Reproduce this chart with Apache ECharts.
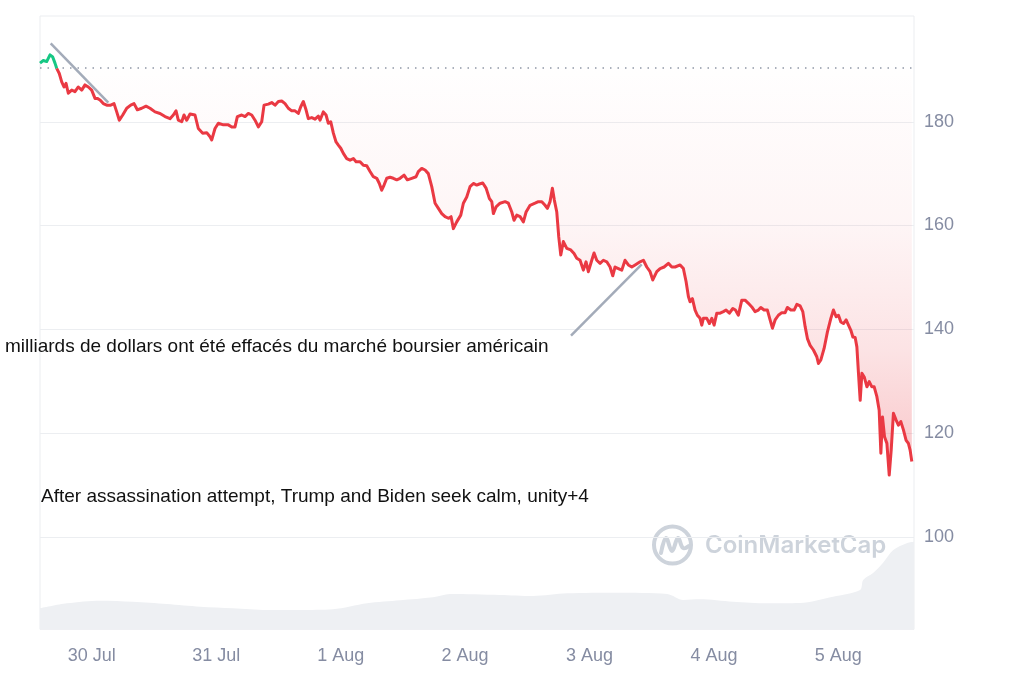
<!DOCTYPE html>
<html><head><meta charset="utf-8">
<script src="https://cdn.jsdelivr.net/npm/echarts@6/dist/echarts.min.js"></script>
<style>html,body{margin:0;padding:0;background:#fff}#c{width:1024px;height:683px}</style>
</head><body><div id="c"></div>
<script>
// ---- data ----
const startTime = new Date(2024, 6, 29, 14, 0).getTime(); // hour 0 = 29 Jul 14:00
const endHour = 168.6;
const baselinePrice = 190.4;
const dayLabels = ['30 Jul', '31 Jul', '1 Aug', '2 Aug', '3 Aug', '4 Aug', '5 Aug'];
const firstDay = new Date(2024, 6, 30, 0, 0).getTime();
const yTickStep = 20;

const priceHours = [
  0,0.64,1.29,1.93,2.45,2.89,3.22,3.72,4.19,4.63,5.02,5.46,6.12,6.75,7.39,8.05,8.68,9.32,9.97,10.61,11.05,11.58,12.21,12.87,13.64,14.28,14.80,15.30,15.96,16.73,17.50,18.14,18.77,19.62,20.45,21.22,22.19,23.15,24.12,25.08,25.72,26.24,26.68,27.34,27.78,28.30,28.94,29.90,30.54,31.39,32.16,32.80,33.13,33.76,34.40,35.37,36.33,36.99,37.62,38.07,38.91,39.55,40.19,40.84,41.48,42.12,
  42.77,43.22,44.05,44.70,45.34,45.98,46.63,47.27,47.90,48.56,49.20,49.83,50.30,50.80,51.32,51.76,52.42,53.06,53.69,54.02,54.66,55.18,55.62,56.09,56.59,57.11,57.55,58.02,58.52,59.17,59.81,60.45,60.97,61.74,62.38,63.03,63.67,64.30,64.96,65.46,65.92,66.37,66.89,67.53,68.16,68.82,69.46,70.23,70.86,71.71,72.54,72.98,73.64,74.28,74.91,75.57,76.21,76.85,77.50,78.14,78.78,79.30,79.74,80.39,81.17,
  81.67,82.32,82.96,83.60,84.25,84.76,85.41,86.05,86.69,87.15,87.46,87.98,88.75,89.72,90.35,91.01,91.45,91.97,92.61,93.25,93.77,94.54,95.50,96.14,96.80,97.43,97.88,98.39,98.84,99.22,99.69,100.07,100.46,100.96,101.62,102.39,103.02,103.54,104.18,104.82,105.34,105.78,106.44,106.88,107.40,108.04,108.68,109.33,109.97,110.49,110.93,111.57,112.23,112.86,113.50,114.16,114.80,115.76,116.40,117.05,117.69,118.21,118.98,119.62,120.39,121.22,121.88,122.51,123.48,
  124.11,124.63,125.08,125.40,125.85,126.37,126.81,127.33,127.66,127.97,128.63,129.13,129.59,130.04,130.56,131.20,131.83,132.35,132.99,133.65,134.15,134.72,135.38,136.01,136.65,137.31,137.94,138.58,139.04,139.68,140.32,140.84,141.29,141.81,142.44,143.10,143.74,144.18,144.84,145.48,146.00,146.63,147.15,147.60,148.04,148.56,149.20,149.85,150.16,150.63,151.26,151.90,152.56,153.06,153.58,154.03,154.49,154.99,155.51,155.96,156.42,156.81,157.25,157.58,157.89,158.22,158.55,159.00,159.52,159.96,160.47,160.92,161.44,161.88,162.21,162.52,162.91,163.37,163.82,164.20,164.63,165.15,165.59,166.06,166.56,167.08,167.52,167.85,168.18
];
const prices = [
  191.3,191.8,191.6,192.9,192.5,191.3,190.3,189.3,187.7,186.7,187.4,185.5,186.1,185.8,186.7,186.1,187.1,186.7,186.1,184.5,184.5,184.2,183.5,183.2,183.2,183.5,181.9,180.3,181.3,182.6,183.2,183.5,182.3,182.6,183.0,182.6,181.9,181.6,181.0,180.6,181.3,182.1,180.3,180.0,181.3,180.3,181.5,181.3,178.7,177.8,177.9,177.1,176.5,178.7,179.7,179.4,179.4,179.0,179.0,181.0,181.3,181.0,181.6,181.3,180.3,179.0,
  180.0,183.2,183.4,183.7,183.2,183.9,184.0,183.5,182.6,182.1,182.1,181.6,182.9,183.9,182.3,180.6,180.8,180.5,181.1,180.3,181.9,181.3,179.7,180.0,177.8,176.1,175.5,174.9,173.9,172.9,172.6,172.9,172.3,172.3,171.6,171.5,170.4,169.4,169.1,168.1,166.8,167.8,169.1,169.3,169.1,168.8,169.1,169.7,168.8,169.1,169.4,170.4,171.0,170.7,170.0,167.5,164.3,163.3,162.3,161.7,161.4,161.7,159.4,160.7,162.0,
  164.3,165.5,167.5,168.1,167.8,168.0,168.2,167.2,165.2,164.6,162.3,163.6,164.3,164.6,164.3,162.6,161.0,162.0,161.7,160.7,162.6,163.9,164.3,164.6,164.6,163.9,163.3,164.6,167.2,164.9,162.6,157.8,154.3,156.9,155.6,155.3,154.6,153.7,153.3,151.4,153.0,151.1,153.3,154.7,153.3,152.7,153.3,153.0,152.0,150.3,152.0,151.7,151.4,153.3,152.4,152.0,152.4,153.0,153.3,152.0,151.1,149.5,151.1,151.7,152.0,152.7,152.0,152.0,152.4,
  151.7,149.2,146.3,145.3,145.9,143.7,142.7,142.1,140.8,142.1,142.1,141.1,142.1,140.8,143.1,143.1,143.4,143.7,143.1,144.0,143.7,142.7,145.6,145.6,145.0,144.3,143.4,143.7,144.2,143.7,143.7,141.8,140.2,141.8,142.7,143.2,143.2,144.2,143.7,143.7,144.8,144.5,143.4,140.5,138.2,136.9,136.0,134.7,133.4,134.1,136.3,139.5,142.1,143.7,142.4,142.7,141.4,141.1,141.8,140.8,139.8,138.5,138.4,136.6,131.5,126.3,131.5,130.8,128.9,129.9,128.9,128.9,127.0,124.4,116.1,123.1,119.3,118.0,111.9,116.7,123.8,122.5,121.5,122.2,120.6,118.6,118.0,116.7,114.5
];
// 24h volume, billions USD
const volumeHours = [0,5.2,11.6,17.9,24.5,30.9,37.2,43.8,50.2,56.5,63.1,69.5,75.8,79.1,88.7,95.1,101.7,111.3,121.0,124.1,127.3,133.7,140.3,146.6,153.0,158.2,158.8,160.7,162.6,164.6,167.3,168.6];
const volumeValues = [2.1,2.6,2.86,2.76,2.53,2.26,2.1,1.93,1.93,2.0,2.6,2.9,3.2,3.53,3.43,3.33,3.6,3.66,3.53,2.93,3.0,2.76,2.6,2.63,3.26,3.93,4.93,5.63,6.63,7.93,8.63,8.76];

const annotation1 = 'milliards de dollars ont été effacés du marché boursier américain';
const annotation2 = 'After assassination attempt, Trump and Biden seek calm, unity+4';

// ---- build ----
const H = 3600 * 1000;
const toT = h => startTime + h * H;
const pricePts = priceHours.map((h, i) => [toT(h), prices[i]]);
const gapPts = priceHours.map((h, i) => [toT(h), +(baselinePrice - prices[i]).toFixed(2)]);
const volPts = volumeHours.map((h, i) => [toT(h), volumeValues[i]]);
const crossIdx = prices.findIndex(p => p <= baselinePrice);
const abovePts = pricePts.slice(0, crossIdx + 1);
const belowPts = pricePts.slice(crossIdx);

const RED = '#ea3943', GREEN = '#16c784', GREY = '#858ca2';
const labelFont = { color: GREY, fontSize: 18, fontFamily: 'Liberation Sans, Arial, sans-serif' };

const chart = echarts.init(document.getElementById('c'), null, { renderer: 'canvas' });
chart.setOption({
  animation: false,
  backgroundColor: '#fff',
  grid: [
    { left: 40, right: 110, top: 18, bottom: 42.5, show: false },
    { left: 40, right: 110, top: 16, bottom: 53.7, show: true, borderColor: '#ebedf0', borderWidth: 1, backgroundColor: 'transparent' }
  ],
  xAxis: [
    {
      type: 'time', gridIndex: 0, min: toT(0), max: toT(endHour),
      minInterval: 24 * H, maxInterval: 24 * H,
      axisLine: { show: false }, axisTick: { show: false }, splitLine: { show: false },
      axisLabel: Object.assign({
        margin: 7, showMinLabel: false, showMaxLabel: false,
        formatter: v => { const i = Math.round((v - firstDay) / (24 * H)); return dayLabels[i] || ''; }
      }, labelFont)
    },
    { type: 'time', gridIndex: 1, min: toT(0), max: toT(endHour), show: false }
  ],
  yAxis: [
    {
      type: 'value', gridIndex: 0, position: 'right', min: 80, max: 200, interval: yTickStep,
      axisLine: { show: false }, axisTick: { show: false },
      splitLine: { show: true, showMinLine: false, showMaxLine: false, lineStyle: { color: '#eceef1', width: 1 } },
      axisLabel: Object.assign({ margin: 10, showMinLabel: false, showMaxLabel: false }, labelFont)
    },
    { type: 'value', gridIndex: 1, min: 0, max: 61.3, show: false }
  ],
  series: [
    {
      type: 'line', xAxisIndex: 1, yAxisIndex: 1, data: volPts, symbol: 'none', smooth: 0.3,
      lineStyle: { width: 0 }, areaStyle: { color: '#eef0f3', opacity: 1 }, silent: true, z: 1
    },
    {
      type: 'line', stack: 'fill', stackStrategy: 'all', data: pricePts, symbol: 'none',
      lineStyle: { opacity: 0 }, silent: true, z: 2
    },
    {
      type: 'line', stack: 'fill', stackStrategy: 'all', data: gapPts, symbol: 'none',
      lineStyle: { opacity: 0 }, silent: true, z: 2,
      areaStyle: {
        color: new echarts.graphic.LinearGradient(0, 0, 0, 1, [
          { offset: 0, color: 'rgba(234,57,67,0)' },
          { offset: 0.4, color: 'rgba(234,57,67,0.07)' },
          { offset: 0.7, color: 'rgba(234,57,67,0.2)' },
          { offset: 1, color: 'rgba(234,57,67,0.42)' }
        ])
      }
    },
    {
      type: 'line', data: belowPts, symbol: 'none', z: 5, color: RED,
      lineStyle: { width: 3, join: 'round', color: RED },
      markLine: {
        silent: true, symbol: ['none', 'none'], label: { show: false },
        lineStyle: { type: [1.5, 6], color: '#8f97a6', width: 1.5 },
        data: [{ yAxis: baselinePrice }]
      }
    },
    {
      type: 'line', data: abovePts, symbol: 'none', z: 5, color: GREEN,
      lineStyle: { width: 3, join: 'round', color: GREEN }
    }
  ],
  graphic: [
    {
      type: 'group', silent: true, z: 0,
      children: [
        { type: 'circle', shape: { cx: 672.5, cy: 545, r: 18.5 }, style: { fill: 'none', stroke: '#cdd3db', lineWidth: 4 } },
        { type: 'polyline', shape: { points: [[661, 553], [666, 538], [672, 551], [678, 538], [683, 548], [689, 546]], smooth: 0.4 },
          style: { fill: 'none', stroke: '#cdd3db', lineWidth: 4, lineCap: 'round', lineJoin: 'round' } },
        { type: 'text', x: 705, y: 546, style: { text: 'CoinMarketCap', fill: '#cdd3db', fontSize: 24, fontWeight: 600, fontFamily: 'Inter, sans-serif', verticalAlign: 'middle' } }
      ]
    },
    { type: 'line', silent: true, z: 50, shape: { x1: 50.7, y1: 43.3, x2: 108.3, y2: 102.7 }, style: { stroke: '#a3abb9', lineWidth: 2.5 } },
    { type: 'line', silent: true, z: 50, shape: { x1: 641.7, y1: 264.3, x2: 571, y2: 335.7 }, style: { stroke: '#a3abb9', lineWidth: 2.5 } },
    { type: 'text', z: 60, x: 5, y: 347, style: { text: annotation1, fill: '#111', fontSize: 19, fontFamily: 'Liberation Sans, Arial, sans-serif', verticalAlign: 'middle' } },
    { type: 'text', z: 60, x: 41, y: 497, style: { text: annotation2, fill: '#111', fontSize: 19, fontFamily: 'Liberation Sans, Arial, sans-serif', verticalAlign: 'middle' } }
  ]
});
</script>
</body></html>
